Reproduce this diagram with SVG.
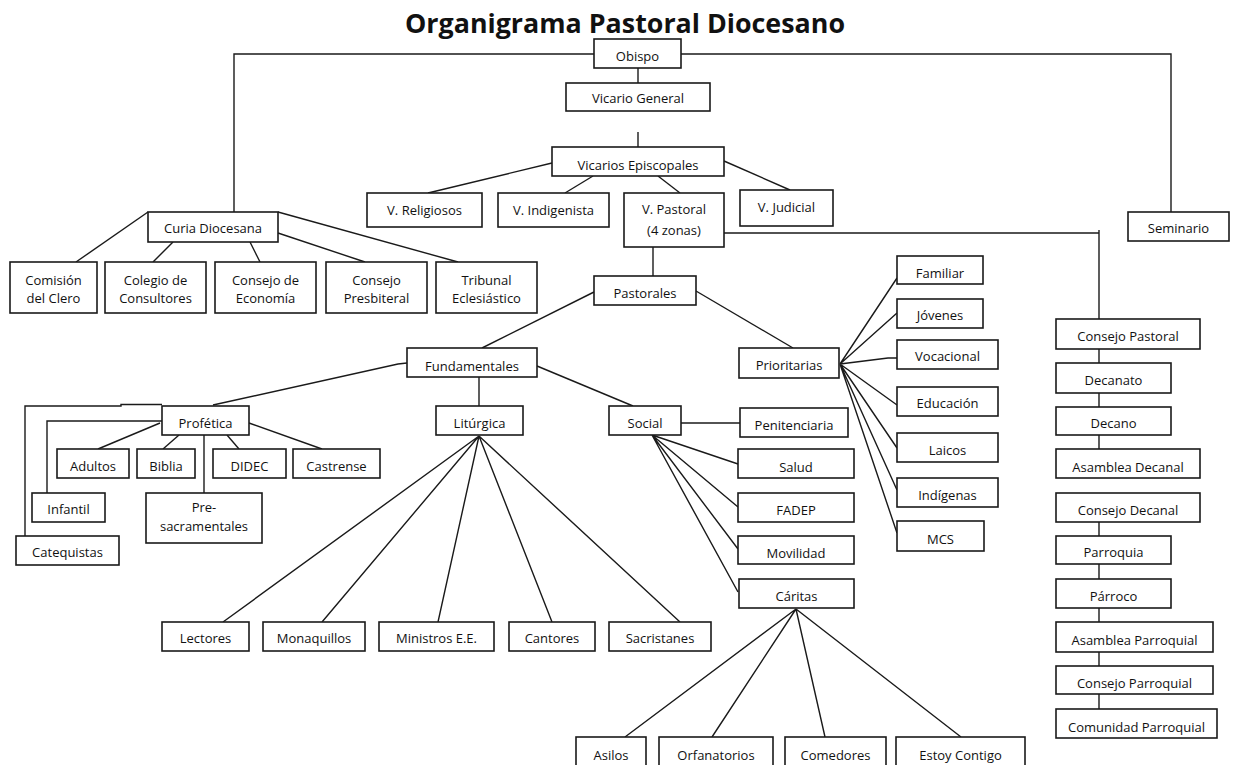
<svg xmlns="http://www.w3.org/2000/svg" width="1236" height="765" viewBox="0 0 1236 765">
<style>
.bg{fill:#fff}
.n rect{fill:#fff;stroke:#1a1a1a;stroke-width:1.6}
.n text{font-family:"Open Sans","Liberation Sans",sans-serif;font-size:13px;fill:#111;text-anchor:middle}
.title{font-family:"Open Sans","Liberation Sans",sans-serif;font-size:27px;font-weight:bold;fill:#111}
.c path{fill:none;stroke:#1a1a1a;stroke-width:1.4}
</style>
<rect class="bg" x="0" y="0" width="1236" height="765"/>
<text class="title" x="405" y="33" textLength="440" lengthAdjust="spacingAndGlyphs">Organigrama Pastoral Diocesano</text>
<g class="c" id="connectors">
<path d="M594 54H234V212"/>
<path d="M681 54H1171V212"/>
<path d="M638 68V83"/>
<path d="M638 132V147"/>
<path d="M552 163L428 193"/>
<path d="M593 176L565 193"/>
<path d="M658 176L680 193"/>
<path d="M724 161L790 190"/>
<path d="M724 233H1099M1099 230V319"/>
<path d="M653 247V276"/>
<path d="M148 212L76 262"/>
<path d="M173 242L153 262"/>
<path d="M250 242L260 262"/>
<path d="M278 233L365 262"/>
<path d="M278 212L458 262"/>
<path d="M594 292L482 348"/>
<path d="M696 291L793 348"/>
<path d="M407 363L398 364L213 405"/>
<path d="M479 377V406"/>
<path d="M537 366L633 406"/>
<path d="M162 404.5H121V406H25V536"/>
<path d="M162 421H47V493"/>
<path d="M160 423L98 449"/>
<path d="M179 435L163 449"/>
<path d="M204 435V493"/>
<path d="M227 435L239 449"/>
<path d="M249 423L322 449"/>
<path d="M479 436L223 622M479 436L322 622M479 436L438 622M479 436L552 622M479 436L680 622"/>
<path d="M681 423H740"/>
<path d="M652 435L738 464M652 435L738 507M652 435L738 549M652 435L738 592"/>
<path d="M840 364L897 278M840 364L897 313M840 364L888 358H897M840 364L897 405M840 364L897 448M840 364L897 490M840 364L897 533"/>
<path d="M1099 349V363M1099 393V407M1099 435V449M1099 522V536M1099 564V579M1099 608V622M1099 652V666M1099 694V709"/>
<path d="M796 609L625 737M796 609L712 737M796 609L825 737M796 609L961 737"/>
</g>
<g class="n" id="obispo"><rect x="594" y="39" width="87" height="29"/><text x="637.5" y="61">Obispo</text></g>
<g class="n" id="vicario-general"><rect x="566" y="83" width="144" height="28"/><text x="638" y="103">Vicario General</text></g>
<g class="n" id="vicarios-episcopales"><rect x="552" y="147" width="172" height="29"/><text x="638" y="170">Vicarios Episcopales</text></g>
<g class="n" id="v-religiosos"><rect x="367" y="193" width="115" height="34"/><text x="424.5" y="215">V. Religiosos</text></g>
<g class="n" id="v-indigenista"><rect x="498" y="193" width="111" height="34"/><text x="553.5" y="215">V. Indigenista</text></g>
<g class="n" id="v-pastoral"><rect x="624" y="193" width="100" height="54"/><text x="674" y="214">V. Pastoral</text><text x="674" y="235">(4 zonas)</text></g>
<g class="n" id="v-judicial"><rect x="740" y="190" width="93" height="36"/><text x="786.5" y="212">V. Judicial</text></g>
<g class="n" id="seminario"><rect x="1128" y="212" width="101" height="29"/><text x="1178.5" y="233">Seminario</text></g>
<g class="n" id="curia"><rect x="148" y="212" width="130" height="30"/><text x="213" y="233">Curia Diocesana</text></g>
<g class="n" id="comision"><rect x="10" y="262" width="87" height="51"/><text x="53.5" y="285">Comisión</text><text x="53.5" y="303">del Clero</text></g>
<g class="n" id="colegio"><rect x="105" y="262" width="101" height="51"/><text x="155.5" y="285">Colegio de</text><text x="155.5" y="303">Consultores</text></g>
<g class="n" id="economia"><rect x="215" y="262" width="101" height="51"/><text x="265.5" y="285">Consejo de</text><text x="265.5" y="303">Economía</text></g>
<g class="n" id="presbiteral"><rect x="326" y="262" width="101" height="51"/><text x="376.5" y="285">Consejo</text><text x="376.5" y="303">Presbiteral</text></g>
<g class="n" id="tribunal"><rect x="436" y="262" width="101" height="51"/><text x="486.5" y="285">Tribunal</text><text x="486.5" y="303">Eclesiástico</text></g>
<g class="n" id="pastorales"><rect x="594" y="276" width="102" height="29"/><text x="645" y="298">Pastorales</text></g>
<g class="n" id="fundamentales"><rect x="407" y="348" width="130" height="29"/><text x="472" y="371">Fundamentales</text></g>
<g class="n" id="prioritarias"><rect x="739" y="348" width="100" height="30"/><text x="789" y="370">Prioritarias</text></g>
<g class="n" id="familiar"><rect x="897" y="256" width="86" height="28"/><text x="940" y="278">Familiar</text></g>
<g class="n" id="jovenes"><rect x="897" y="299" width="86" height="29"/><text x="940" y="320">Jóvenes</text></g>
<g class="n" id="vocacional"><rect x="897" y="340" width="101" height="29"/><text x="947.5" y="361">Vocacional</text></g>
<g class="n" id="educacion"><rect x="897" y="387" width="101" height="29"/><text x="947.5" y="408">Educación</text></g>
<g class="n" id="laicos"><rect x="897" y="433" width="101" height="29"/><text x="947.5" y="455">Laicos</text></g>
<g class="n" id="indigenas"><rect x="897" y="478" width="101" height="29"/><text x="947.5" y="500">Indígenas</text></g>
<g class="n" id="mcs"><rect x="897" y="521" width="87" height="30"/><text x="940.5" y="544">MCS</text></g>
<g class="n" id="consejo-pastoral"><rect x="1056" y="319" width="144" height="30"/><text x="1128" y="341">Consejo Pastoral</text></g>
<g class="n" id="decanato"><rect x="1056" y="363" width="115" height="30"/><text x="1113.5" y="385">Decanato</text></g>
<g class="n" id="decano"><rect x="1056" y="407" width="115" height="28"/><text x="1113.5" y="428">Decano</text></g>
<g class="n" id="asamblea-decanal"><rect x="1056" y="449" width="144" height="29"/><text x="1128" y="472">Asamblea Decanal</text></g>
<g class="n" id="consejo-decanal"><rect x="1056" y="493" width="144" height="29"/><text x="1128" y="515">Consejo Decanal</text></g>
<g class="n" id="parroquia"><rect x="1056" y="536" width="115" height="28"/><text x="1113.5" y="557">Parroquia</text></g>
<g class="n" id="parroco"><rect x="1056" y="579" width="115" height="29"/><text x="1113.5" y="601">Párroco</text></g>
<g class="n" id="asamblea-parroquial"><rect x="1056" y="622" width="157" height="30"/><text x="1134.5" y="645">Asamblea Parroquial</text></g>
<g class="n" id="consejo-parroquial"><rect x="1056" y="666" width="157" height="28"/><text x="1134.5" y="688">Consejo Parroquial</text></g>
<g class="n" id="comunidad-parroquial"><rect x="1056" y="709" width="161" height="29"/><text x="1136.5" y="732">Comunidad Parroquial</text></g>
<g class="n" id="profetica"><rect x="162" y="406" width="87" height="29"/><text x="205.5" y="428">Profética</text></g>
<g class="n" id="adultos"><rect x="57" y="449" width="72" height="29"/><text x="93" y="471">Adultos</text></g>
<g class="n" id="biblia"><rect x="137" y="449" width="58" height="29"/><text x="166" y="471">Biblia</text></g>
<g class="n" id="didec"><rect x="213" y="449" width="73" height="29"/><text x="249.5" y="471">DIDEC</text></g>
<g class="n" id="castrense"><rect x="293" y="449" width="87" height="29"/><text x="336.5" y="471">Castrense</text></g>
<g class="n" id="infantil"><rect x="32" y="493" width="73" height="29"/><text x="68.5" y="514">Infantil</text></g>
<g class="n" id="presacramentales"><rect x="146" y="493" width="116" height="50"/><text x="204" y="512">Pre-</text><text x="204" y="531">sacramentales</text></g>
<g class="n" id="catequistas"><rect x="16" y="536" width="103" height="29"/><text x="67.5" y="557">Catequistas</text></g>
<g class="n" id="liturgica"><rect x="436" y="406" width="87" height="29"/><text x="479.5" y="428">Litúrgica</text></g>
<g class="n" id="social"><rect x="609" y="406" width="72" height="29"/><text x="645" y="428">Social</text></g>
<g class="n" id="penitenciaria"><rect x="740" y="408" width="108" height="29"/><text x="794" y="430">Penitenciaria</text></g>
<g class="n" id="salud"><rect x="738" y="449" width="116" height="29"/><text x="796" y="472">Salud</text></g>
<g class="n" id="fadep"><rect x="738" y="493" width="116" height="29"/><text x="796" y="515">FADEP</text></g>
<g class="n" id="movilidad"><rect x="738" y="536" width="116" height="28"/><text x="796" y="558">Movilidad</text></g>
<g class="n" id="caritas"><rect x="739" y="579" width="115" height="29"/><text x="796.5" y="601">Cáritas</text></g>
<g class="n" id="lectores"><rect x="162" y="622" width="87" height="29"/><text x="205.5" y="643">Lectores</text></g>
<g class="n" id="monaquillos"><rect x="263" y="622" width="102" height="29"/><text x="314" y="643">Monaquillos</text></g>
<g class="n" id="ministros"><rect x="379" y="622" width="115" height="29"/><text x="436.5" y="643">Ministros E.E.</text></g>
<g class="n" id="cantores"><rect x="509" y="622" width="86" height="29"/><text x="552" y="643">Cantores</text></g>
<g class="n" id="sacristanes"><rect x="609" y="622" width="102" height="29"/><text x="660" y="643">Sacristanes</text></g>
<g class="n" id="asilos"><rect x="576" y="737" width="70" height="32"/><text x="611" y="760">Asilos</text></g>
<g class="n" id="orfanatorios"><rect x="659" y="737" width="114" height="32"/><text x="716" y="760">Orfanatorios</text></g>
<g class="n" id="comedores"><rect x="785" y="737" width="101" height="32"/><text x="835.5" y="760">Comedores</text></g>
<g class="n" id="estoy-contigo"><rect x="896" y="737" width="129" height="32"/><text x="960.5" y="760">Estoy Contigo</text></g>
</svg>
